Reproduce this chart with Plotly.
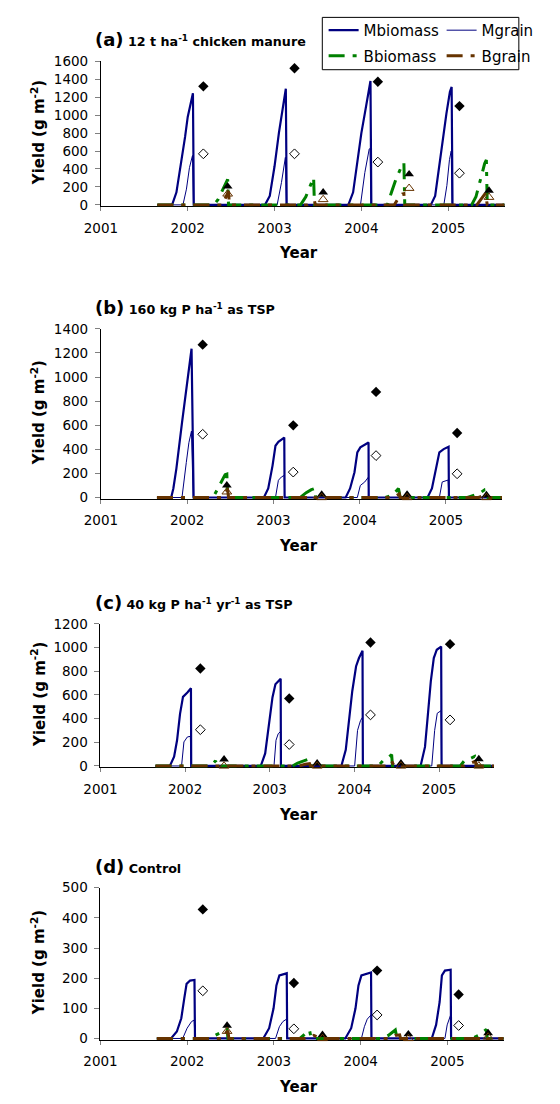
import plotly.graph_objects as go

# ---------------- data (decimal year, g m-2) ----------------
YEARS = [2001, 2002, 2003, 2004, 2005]
YEAR_LABELS = ["2001", "2002", "2003", "2004", "2005"]

# panel (a) 12 t ha-1 chicken manure
a_mbio = [(2001.65, 0), (2001.82, 0), (2001.87, 140), (2001.92, 430), (2001.97, 760), (2002.00, 980),
          (2002.06, 1245), (2002.07, 0), (2002.89, 0), (2002.945, 100), (2003.00, 430), (2003.05, 800),
          (2003.10, 1090), (2003.13, 1295), (2003.14, 0), (2003.85, 0), (2003.905, 140), (2003.955, 505),
          (2004.00, 800), (2004.04, 1020), (2004.075, 1200), (2004.105, 1380), (2004.115, 0), (2004.80, 0),
          (2004.85, 100), (2004.90, 470), (2004.94, 760), (2004.98, 1020), (2005.02, 1260), (2005.04, 1315),
          (2005.05, 0), (2005.65, 0)]
a_mgrain = [(2001.65, 0), (2001.945, 0), (2001.985, 175), (2002.02, 415), (2002.055, 550), (2002.065, 0),
            (2003.03, 0), (2003.08, 250), (2003.125, 530), (2003.135, 0), (2003.99, 0), (2004.04, 360),
            (2004.09, 620), (2004.10, 630), (2004.11, 0), (2004.95, 0), (2004.985, 215), (2005.015, 505),
            (2005.035, 600), (2005.045, 0), (2005.65, 0)]
a_bbio = [(2001.65, 0), (2002.30, 0), (2002.35, 60), (2002.41, 190), (2002.46, 285), (2002.47, 0),
          (2003.30, 0), (2003.36, 90), (2003.41, 220), (2003.45, 305), (2003.46, 0), (2004.30, 0),
          (2004.35, 150), (2004.40, 290), (2004.45, 400), (2004.49, 470), (2004.50, 0), (2005.27, 0),
          (2005.32, 90), (2005.37, 280), (2005.42, 460), (2005.44, 500), (2005.45, 0), (2005.65, 0)]
a_bgrain = [(2001.65, 0), (2002.40, 0), (2002.44, 90), (2002.47, 150), (2002.48, 0), (2003.38, 0),
            (2003.43, 30), (2003.46, 45), (2003.47, 0), (2004.38, 0), (2004.43, 80), (2004.47, 120),
            (2004.49, 125), (2004.50, 0), (2005.33, 0), (2005.38, 60), (2005.43, 130), (2005.45, 0),
            (2005.65, 0)]

# panel (b) 160 kg P ha-1 as TSP
b_mbio = [(2001.65, 0), (2001.815, 0), (2001.84, 75), (2001.875, 240), (2001.94, 620), (2001.985, 865),
          (2002.024, 1055), (2002.051, 1235), (2002.075, 0), (2002.89, 0), (2002.94, 75), (2002.99, 265),
          (2003.024, 430), (2003.058, 462), (2003.126, 498), (2003.13, 0), (2003.838, 0), (2003.889, 75),
          (2003.94, 210), (2003.973, 375), (2004.008, 416), (2004.103, 457), (2004.105, 0), (2004.787, 0),
          (2004.838, 75), (2004.889, 238), (2004.924, 375), (2004.974, 402), (2005.031, 421), (2005.035, 0),
          (2005.65, 0)]
b_mgrain = [(2001.65, 0), (2001.94, 0), (2001.99, 290), (2002.02, 455), (2002.05, 552), (2002.07, 0),
            (2003.024, 0), (2003.058, 143), (2003.092, 170), (2003.126, 184), (2003.13, 0), (2003.973, 0),
            (2004.008, 100), (2004.059, 129), (2004.10, 168), (2004.105, 0), (2004.924, 0), (2004.957, 129),
            (2005.025, 145), (2005.035, 0), (2005.65, 0)]
b_bbio = [(2001.65, 0), (2002.30, 0), (2002.33, 40), (2002.40, 130), (2002.44, 190), (2002.46, 195),
          (2002.47, 0), (2003.31, 0), (2003.38, 40), (2003.44, 65), (2003.48, 75), (2003.49, 0), (2004.30, 0),
          (2004.38, 20), (2004.43, 60), (2004.45, 75), (2004.47, 0), (2005.25, 0), (2005.33, 20),
          (2005.40, 40), (2005.44, 60), (2005.45, 0), (2005.65, 0)]
b_bgrain = [(2001.65, 0), (2002.40, 0), (2002.45, 50), (2002.47, 60), (2002.48, 0), (2003.40, 0),
            (2003.45, 20), (2003.48, 0), (2004.40, 0), (2004.44, 20), (2004.46, 30), (2004.47, 0),
            (2005.38, 0), (2005.43, 15), (2005.45, 0), (2005.65, 0)]

# panel (c) 40 kg P ha-1 yr-1 as TSP
c_mbio = [(2001.65, 0), (2001.82, 0), (2001.87, 78), (2001.905, 217), (2001.94, 440), (2001.975, 583),
          (2002.027, 620), (2002.069, 656), (2002.072, 0), (2002.894, 0), (2002.946, 106), (2002.998, 383),
          (2003.032, 578), (2003.067, 689), (2003.129, 736), (2003.132, 0), (2003.846, 0), (2003.898, 136),
          (2003.94, 383), (2003.975, 633), (2004.02, 842), (2004.054, 911), (2004.096, 972), (2004.10, 0),
          (2004.782, 0), (2004.834, 161), (2004.869, 439), (2004.903, 717), (2004.938, 911), (2004.973, 981),
          (2005.025, 1008), (2005.03, 0), (2005.65, 0)]
c_mgrain = [(2001.65, 0), (2001.958, 0), (2001.986, 203), (2002.027, 245), (2002.062, 250), (2002.07, 0),
            (2003.05, 0), (2003.074, 217), (2003.10, 272), (2003.129, 292), (2003.132, 0), (2004.003, 0),
            (2004.037, 300), (2004.072, 383), (2004.096, 411), (2004.10, 0), (2004.914, 0), (2004.948, 300),
            (2004.979, 445), (2005.025, 467), (2005.03, 0), (2005.65, 0)]
c_bbio = [(2001.65, 0), (2002.30, 0), (2002.33, 20), (2002.36, 45), (2002.37, 0), (2003.27, 0),
          (2003.33, 25), (2003.40, 45), (2003.47, 60), (2003.48, 0), (2004.28, 0), (2004.34, 45),
          (2004.40, 70), (2004.44, 95), (2004.45, 0), (2005.25, 0), (2005.30, 45), (2005.36, 60),
          (2005.42, 80), (2005.44, 0), (2005.65, 0)]
c_bgrain = [(2001.65, 0), (2003.35, 0), (2003.42, 15), (2003.47, 20), (2003.48, 0), (2004.38, 0),
            (2004.44, 40), (2004.46, 10), (2004.47, 0), (2005.30, 0), (2005.38, 25), (2005.43, 40),
            (2005.44, 0), (2005.65, 0)]

# panel (d) Control
d_mbio = [(2001.65, 0), (2001.814, 0), (2001.881, 23), (2001.932, 67), (2001.966, 132), (2001.993, 181),
          (2002.033, 192), (2002.084, 194), (2002.09, 0), (2002.877, 0), (2002.945, 34), (2002.996, 100),
          (2003.029, 176), (2003.063, 209), (2003.148, 216), (2003.153, 0), (2003.823, 0), (2003.891, 34),
          (2003.941, 100), (2003.975, 176), (2004.009, 209), (2004.12, 219), (2004.125, 0), (2004.82, 0),
          (2004.87, 45), (2004.911, 121), (2004.937, 209), (2004.972, 225), (2005.038, 228), (2005.043, 0),
          (2005.65, 0)]
d_mgrain = [(2001.65, 0), (2001.948, 0), (2001.999, 34), (2002.05, 56), (2002.08, 61), (2002.09, 0),
            (2003.019, 0), (2003.063, 39), (2003.103, 56), (2003.145, 64), (2003.153, 0), (2004.009, 0),
            (2004.043, 39), (2004.076, 64), (2004.12, 78), (2004.125, 0), (2004.972, 0), (2004.998, 45),
            (2005.038, 78), (2005.043, 0), (2005.65, 0)]
d_bbio = [(2001.65, 0), (2002.28, 0), (2002.32, 10), (2002.36, 15), (2002.46, 30), (2002.47, 0),
          (2003.30, 0), (2003.36, 15), (2003.41, 28), (2003.43, 0), (2004.25, 0), (2004.32, 10),
          (2004.40, 28), (2004.42, 0), (2005.28, 0), (2005.36, 10), (2005.40, 20), (2005.45, 30),
          (2005.46, 0), (2005.65, 0)]
d_bgrain = [(2001.65, 0), (2002.42, 0), (2002.45, 20), (2002.47, 25), (2002.48, 0), (2003.40, 0),
            (2003.46, 10), (2003.50, 5), (2003.51, 0), (2004.33, 0), (2004.40, 10), (2004.45, 12),
            (2004.46, 0), (2005.38, 0), (2005.44, 8), (2005.46, 0), (2005.65, 0)]

# observations
maize_obs_t = [2002.18, 2003.23, 2004.19, 2005.13]
bean_obs_t = [2002.46, 2003.56, 2004.55, 2005.47]
a_mbio_obs = [1321, 1522, 1372, 1101]
a_mgrain_obs = [569, 569, 477, 353]
a_bbio_obs = [206, 140, 342, 159]
a_bgrain_obs = [122, 60, 185, 85]
b_mbio_obs = [1269, 599, 877, 536]
b_mgrain_obs = [525, 211, 348, 197]
b_bbio_obs = [101, 25, 25, 20]
b_bgrain_obs = [47, 0, 0, 0]
c_mbio_obs = [822, 570, 1042, 1028]
c_mgrain_obs = [306, 181, 431, 389]
c_bbio_obs = [56, 22, 22, 58]
c_bgrain_obs = [0, 0, 0, 0]
d_mbio_obs = [428, 184, 225, 146]
d_mgrain_obs = [158, 32, 78, 43]
d_bbio_obs = [43, 12, 14, 18]
d_bgrain_obs = [24, 0, 0, 5]

titles = ["<span style='font-size:18px'>(a)</span> 12 t ha<sup>-1</sup> chicken manure",
          "<span style='font-size:18px'>(b)</span> 160 kg P ha<sup>-1</sup> as TSP",
          "<span style='font-size:18px'>(c)</span> 40 kg P ha<sup>-1</sup> yr<sup>-1</sup> as TSP",
          "<span style='font-size:18px'>(d)</span> Control"]
y_max = [1600, 1400, 1200, 500]
y_dtick = [200, 200, 200, 100]

# ---------------- layout geometry (pixels) ----------------
W, H = 560, 1104
FONT = "DejaVu Sans"
NAVY, GREEN, BROWN = "#000080", "#008000", "#663300"
DASH = "16px,8px,4px,8px"

px_x = [(95.5, 555.0), (95.5, 552.0), (95.0, 543.0), (95.0, 554.0)]
px_y = [(54.0, 199.4), (325.0, 495.8), (623.7, 767.7), (891.0, 1043.7)]
title_y = [32, 303, 602, 870]
xtitle_y = [248, 545, 817, 1093]

panels = [
    (a_mbio, a_mgrain, a_bbio, a_bgrain, a_mbio_obs, a_mgrain_obs, a_bbio_obs, a_bgrain_obs),
    (b_mbio, b_mgrain, b_bbio, b_bgrain, b_mbio_obs, b_mgrain_obs, b_bbio_obs, b_bgrain_obs),
    (c_mbio, c_mgrain, c_bbio, c_bgrain, c_mbio_obs, c_mgrain_obs, c_bbio_obs, c_bgrain_obs),
    (d_mbio, d_mgrain, d_bbio, d_bgrain, d_mbio_obs, d_mgrain_obs, d_bbio_obs, d_bgrain_obs),
]


def unzip(pairs):
    return [p[0] for p in pairs], [p[1] for p in pairs]


fig = go.Figure()
annotations = []
for i, (mb, mg, bb, bg, mbo, mgo, bbo, bgo) in enumerate(panels):
    xs = "" if i == 0 else str(i + 1)
    xa, ya = "x" + xs, "y" + xs
    first = i == 0
    series = [
        (mb, "Mbiomass", dict(color=NAVY, width=2.2), "legend"),
        (mg, "Mgrain", dict(color=NAVY, width=1), "legend"),
        (bb, "Bbiomass", dict(color=GREEN, width=3, dash=DASH), "legend2"),
        (bg, "Bgrain", dict(color=BROWN, width=3, dash=DASH), "legend2"),
    ]
    for pairs, name, line, leg in series:
        t, v = unzip(pairs)
        fig.add_trace(go.Scatter(x=t, y=v, mode="lines", name=name, line=line, xaxis=xa, yaxis=ya,
                                 showlegend=first, legend=leg, hoverinfo="skip"))
    markers = [
        (maize_obs_t, mbo, dict(symbol="diamond", size=8, color="black")),
        (maize_obs_t, mgo, dict(symbol="diamond-open", size=7.5, color="black", line=dict(width=1))),
        (bean_obs_t, bbo, dict(symbol="triangle-up", size=8.5, color="black")),
        (bean_obs_t, bgo, dict(symbol="triangle-up-open", size=8.5, color=BROWN, line=dict(width=1))),
    ]
    for t, v, mk in markers:
        fig.add_trace(go.Scatter(x=t, y=v, mode="markers", marker=mk, xaxis=xa, yaxis=ya,
                                 showlegend=False, cliponaxis=False, hoverinfo="skip"))

    top, zero = px_y[i]
    ppu = (zero - top) / y_max[i]
    neg = 1.5 / ppu
    bottom = zero + 1.5
    x0, x1 = px_x[i]
    fig.update_layout(**{
        "xaxis" + xs: dict(domain=[x0 / W, x1 / W], range=[2001, 2005.65], anchor=ya,
                           tickvals=YEARS, ticktext=YEAR_LABELS, showline=True, linecolor="black",
                           linewidth=1, ticks="outside", ticklen=4, tickcolor="#808080",
                           showgrid=False, zeroline=False, layer="below traces",
                           tickfont=dict(family=FONT, size=13.5, color="black"), ticklabelstandoff=5),
        "yaxis" + xs: dict(domain=[1 - bottom / H, 1 - top / H], range=[-neg, y_max[i]], anchor=xa,
                           dtick=y_dtick[i], tick0=0, showline=True, linecolor="black", linewidth=1,
                           ticks="outside", ticklen=5, tickcolor="#808080", showgrid=False,
                           zeroline=False, layer="below traces",
                           tickfont=dict(family=FONT, size=13.5, color="black"), ticklabelstandoff=4),
    })
    annotations.append(dict(text="<b>" + titles[i] + "</b>", x=87 / W, y=1 - title_y[i] / H,
                            xref="paper", yref="paper", xanchor="left", yanchor="middle",
                            showarrow=False, font=dict(family=FONT, size=12.7, color="black")))
    annotations.append(dict(text="<b>Yield (g m<sup>-2</sup>)</b>", x=24 / W, y=1 - (top + zero) / 2 / H,
                            xref="paper", yref="paper", xanchor="center", yanchor="middle",
                            textangle=-90, showarrow=False, font=dict(family=FONT, size=15, color="black")))
    annotations.append(dict(text="<b>Year</b>", x=320 / W, y=1 - xtitle_y[i] / H,
                            xref="paper", yref="paper", xanchor="center", yanchor="middle",
                            showarrow=False, font=dict(family=FONT, size=15, color="black")))

legend_common = dict(orientation="h", xanchor="left", yanchor="top", x=349 / W,
                     bgcolor="rgba(0,0,0,0)", borderwidth=0, entrywidth=73, entrywidthmode="pixels",
                     font=dict(family=FONT, size=15, color="black"), itemclick=False, itemdoubleclick=False)

fig.update_layout(
    width=W, height=H, margin=dict(l=0, r=0, t=0, b=0),
    paper_bgcolor="white", plot_bgcolor="white",
    font=dict(family=FONT, size=14, color="black"),
    annotations=annotations,
    legend=dict(y=1 - 6 / H, **legend_common),
    legend2=dict(y=1 - 32 / H, **legend_common),
    shapes=[dict(type="rect", xref="paper", yref="paper", x0=347.5 / W, x1=1.02,
                 y0=1 - 62.5 / H, y1=1 - 9.5 / H, line=dict(color="black", width=1),
                 fillcolor="rgba(0,0,0,0)", layer="above")],
)

fig.write_html("out.html")
